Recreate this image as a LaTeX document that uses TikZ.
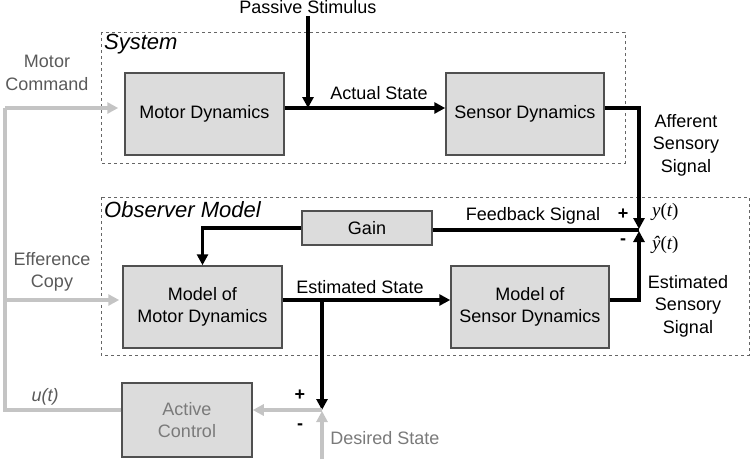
\documentclass[tikz,border=0pt]{standalone}
\usepackage{fontspec}
\setmainfont{Liberation Sans}
\newfontfamily\lserif{Liberation Serif}
\usetikzlibrary{arrows.meta,calc}
\definecolor{boxfill}{HTML}{DCDCDC}
\definecolor{boxline}{HTML}{505050}
\definecolor{glight}{HTML}{C4C4C4}
\definecolor{gtext}{HTML}{5A5A5A}
\definecolor{gtextl}{HTML}{7A7A7A}
\definecolor{dashc}{HTML}{666666}
\begin{document}
\begin{tikzpicture}[x=1pt,y=-1pt,
  blk/.style={draw=boxline,line width=1.5pt,fill=boxfill,font=\fontsize{18}{22}\selectfont,align=center,inner sep=0pt},
  frame/.style={draw=dashc,dashed,line width=0.9pt},
  sig/.style={line width=3.6pt,black},
  sigarrow/.style={sig,-{Triangle[length=11pt,width=11pt]}},
  gsig/.style={line width=3.6pt,glight},
  gsigarrow/.style={gsig,-{Triangle[length=11pt,width=11pt]}},
  lbl/.style={font=\fontsize{18}{22.5}\selectfont,align=center,inner sep=0pt},
  title/.style={font=\fontsize{22}{26}\selectfont\itshape,anchor=west,inner sep=0pt},
  pm/.style={font=\fontsize{18}{20}\selectfont\bfseries,inner sep=0pt}
]
\useasboundingbox (0,0) rectangle (750,459);
% frames
\draw[frame] (101,32) rectangle (625,163);
\draw[frame] (101,197) rectangle (749,355);
\node[title] (systitle) at (104,44) {System};
\node[title] (obstitle) at (104,210) {Observer Model};
% blocks
\node[blk,minimum width=159pt,minimum height=82pt] (md) at (204.5,114) {Motor Dynamics};
\node[blk,minimum width=158pt,minimum height=82pt] (ss) at (525,114) {Sensor Dynamics};
\node[blk,minimum width=130pt,minimum height=34pt] (gain) at (367,228) {Gain};
\node[blk,minimum width=159pt,minimum height=82pt] (mmd) at (202.5,307) {Model of\\Motor Dynamics};
\node[blk,minimum width=158pt,minimum height=82pt] (msd) at (530,307) {Model of\\Sensor Dynamics};
\node[blk,minimum width=130pt,minimum height=74pt,text=gtextl] (ac) at (187,420) {Active\\Control};
% coordinates
\coordinate (j1) at (308,108);
\coordinate (sum1) at (639,230);
\coordinate (es) at (322,300);
\coordinate (sum2) at (322,410);
\coordinate (cornerA) at (639,108);
\coordinate (cornerB) at (639,300);
\coordinate (left1) at (5,108);
\coordinate (left2) at (5,300);
\coordinate (left3) at (5,410);
\coordinate (dsbot) at (322,459);
% texts
\node[lbl] (ps) at (308,7) {Passive Stimulus};
\node[lbl] (actlbl) at (379,93) {Actual State};
\node[lbl] (afflbl) at (686,145) {Afferent\\Sensory\\Signal};
\node[lbl] (fblbl) at (533,216) {Feedback Signal};
\node[lbl] (eslbl) at (360,287) {Estimated State};
\node[lbl] (esslbl) at (688,306) {Estimated\\Sensory\\Signal};
\node[lbl,text=gtext] (mclbl) at (47,73) {Motor\\Command};
\node[lbl,text=gtext] (eclbl) at (52,272) {Efference\\Copy};
\node[lbl,text=gtext,font=\fontsize{18}{22}\selectfont\itshape] (ulbl) at (45,397) {u(t)};
\node[lbl,text=gtextl] (dslbl) at (385,438) {Desired State};
\node[pm] (p1) at (623,214) {+};
\node[pm] (m1) at (623,242) {-};
\node[pm] (p2) at (300,395) {+};
\node[pm] (m2) at (300,427) {-};
\node[inner sep=0pt,anchor=west,font=\fontsize{19}{22}\lserif] (ylbl) at (652,212) {\itshape y\upshape(\itshape t\upshape)};
\node[inner sep=0pt,anchor=west,font=\fontsize{19}{22}\lserif] (yhlbl) at (652,245) {\itshape \^{y}\upshape(\itshape t\upshape)};
% black signals
\draw[sigarrow] ([yshift=-2pt]ps.south) -- (j1);
\draw[sigarrow] (md.east |- j1) -- (ss.west |- j1);
\draw[sigarrow] (ss.east |- j1) -- (cornerA) -- ([yshift=1pt]sum1);
\draw[sig] (sum1) -- (gain.east |- sum1);
\draw[sigarrow] (gain.west) -| (mmd.north);
\draw[sigarrow] (mmd.east |- es) -- (msd.west |- es);
\draw[sigarrow] (es) -- (sum2);
\draw[sigarrow] (msd.east |- es) -- (cornerB) -- ([yshift=-1pt]sum1);
% gray signals
\draw[gsigarrow] (sum2) -- (ac.east |- sum2);
\draw[gsigarrow] (dsbot) -- ([yshift=-1pt]sum2);
\draw[gsig] (ac.west |- sum2) -- (left3) -- (left1);
\draw[gsigarrow,shorten >=6pt] (left1) -- (md.west |- j1);
\draw[gsigarrow,shorten >=3pt] (left2) -- (mmd.west |- es);
\end{tikzpicture}
\end{document}
